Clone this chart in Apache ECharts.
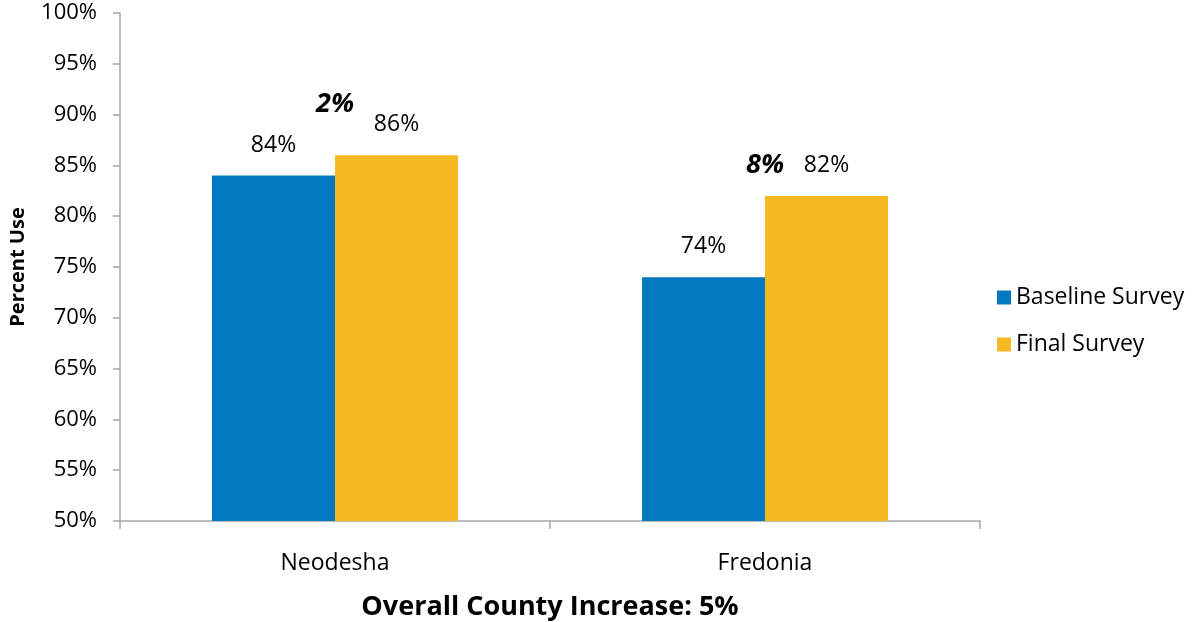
<!DOCTYPE html>
<html><head><meta charset="utf-8">
<script src="https://cdn.jsdelivr.net/npm/echarts@6/dist/echarts.min.js"></script>
<style>html,body{margin:0;padding:0;background:#fff}#c{width:1193px;height:622px}</style>
</head><body><div id="c"></div>
<script>
const categories = ['Neodesha', 'Fredonia'];
const baseline = [84, 74];
const finalSurvey = [86, 82];
const changeText = ['2%', '8%'];
const changeLevel = [91, 85];
const yTicks = [50, 55, 60, 65, 70, 75, 80, 85, 90, 95, 100];
const xTitle = 'Overall County Increase: 5%';
const yTitle = 'Percent Use';

const FONT = 'Open Sans';
const chart = echarts.init(document.getElementById('c'));
const lbl = {show: true, position: 'top', distance: 19, formatter: p => p.value + '%', color: '#000', fontFamily: FONT, fontSize: 23};
chart.setOption({
  animation: false,
  textStyle: {fontFamily: FONT},
  grid: {left: 120, right: 213, top: 13, bottom: 101, containLabel: false, outerBoundsMode: 'none'},
  legend: {
    orient: 'vertical', left: 992, top: 281, itemGap: 24, itemWidth: 14, itemHeight: 14,
    icon: 'rect', textStyle: {fontFamily: FONT, fontSize: 23, color: '#000'},
    data: ['Baseline Survey', 'Final Survey']
  },
  xAxis: {
    type: 'category', data: categories,
    axisLine: {lineStyle: {color: '#a6a6a6', width: 1.5}},
    axisTick: {show: true, length: 8, lineStyle: {color: '#a6a6a6', width: 1.5}},
    axisLabel: {color: '#000', fontFamily: FONT, fontSize: 23, margin: 31},
    name: xTitle, nameLocation: 'middle', nameGap: 73,
    nameTextStyle: {fontFamily: FONT, fontSize: 27, fontWeight: 'bold', color: '#000'}
  },
  yAxis: {
    type: 'value', min: yTicks[0], max: yTicks[yTicks.length - 1], interval: 5,
    axisLine: {show: true, lineStyle: {color: '#a6a6a6', width: 1.5}},
    axisTick: {show: true, length: 7, lineStyle: {color: '#a6a6a6', width: 1.5}},
    splitLine: {show: false},
    axisLabel: {color: '#000', fontFamily: FONT, fontSize: 22, margin: 23, formatter: v => v + '%'},
    name: yTitle, nameLocation: 'middle', nameGap: 92, nameRotate: 90,
    nameTextStyle: {fontFamily: FONT, fontSize: 20, fontWeight: 'bold', color: '#000'}
  },
  series: [
    {name: 'Baseline Survey', type: 'bar', data: baseline, barGap: '0%', barCategoryGap: '42.8%',
     itemStyle: {color: '#0079C1'}, label: lbl},
    {name: 'Final Survey', type: 'bar', data: finalSurvey,
     itemStyle: {color: '#F5B921'}, label: lbl},
    {name: 'change', type: 'scatter', symbolSize: 0, data: changeLevel, silent: true,
     itemStyle: {opacity: 1, color: '#000'},
     label: {show: true, position: 'inside', formatter: p => changeText[p.dataIndex],
       color: '#000', opacity: 1, fontFamily: FONT, fontSize: 27, fontWeight: 'bold', fontStyle: 'italic'}}
  ]
});
</script></body></html>
